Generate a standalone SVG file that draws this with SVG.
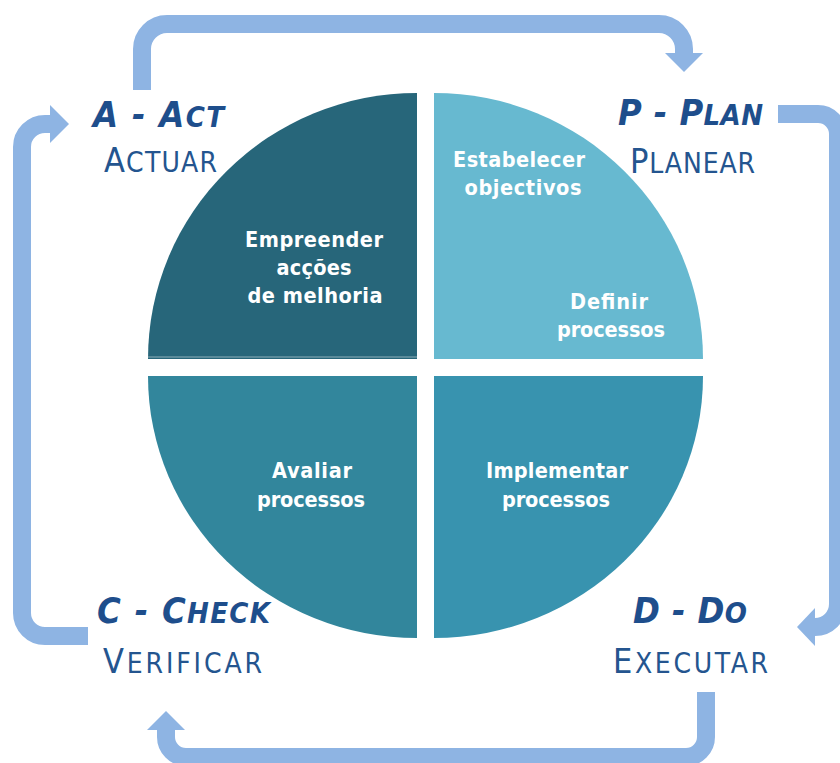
<svg xmlns="http://www.w3.org/2000/svg" width="840" height="763" viewBox="0 0 840 763">
<style>
.q{font-family:"DejaVu Sans Condensed","DejaVu Sans",sans-serif;font-stretch:condensed;font-weight:bold;font-size:21.5px;fill:#ffffff;text-anchor:middle}
.t1{font-family:"DejaVu Sans Condensed","DejaVu Sans",sans-serif;font-stretch:condensed;font-weight:bold;font-style:italic;fill:#1E4E8C}
.t2{font-family:"DejaVu Sans Condensed","DejaVu Sans",sans-serif;font-stretch:condensed;fill:#24558F}
.big{font-size:36px}
.sm{font-size:29px}
.big2{font-size:34px}
.sm2{font-size:28px}
.arr{fill:none;stroke:#8EB4E3;stroke-width:18}
.head{fill:#8EB4E3}
</style>
<rect width="840" height="763" fill="#ffffff"/>
<g id="connectors">
<path class="arr" d="M142,90 V49 A25,25 0 0 1 167,24 H659 A25,25 0 0 1 684,49 V54"/>
<polygon class="head" points="665,53 703,53 684,72"/>
<path class="arr" d="M778,114 H818 A20,20 0 0 1 838,134 V604 A23,23 0 0 1 815,627 H814"/>
<polygon class="head" points="815,608 815,646 797,627"/>
<path class="arr" d="M706,692 V737 A20,20 0 0 1 686,757 H186 A20,20 0 0 1 166,737 V729"/>
<polygon class="head" points="147,730 185,730 166,711"/>
<path class="arr" d="M88,636 H45 A23,23 0 0 1 22,613 V147 A23,23 0 0 1 45,124 H51"/>
<polygon class="head" points="50,105 50,143 69,124"/>
</g>
<g id="act-quadrant">
<path d="M417,359 H148 A269,266 0 0 1 417,93 Z" fill="#27667A"/>
<line x1="148" y1="357" x2="417" y2="357" stroke="#8FB0BA" stroke-width="1"/>
<text class="q" x="314" y="247" textLength="138" lengthAdjust="spacing">Empreender</text>
<text class="q" x="314" y="275" textLength="75" lengthAdjust="spacing">acções</text>
<text class="q" x="315" y="303" textLength="135" lengthAdjust="spacing">de melhoria</text>
</g>
<g id="plan-quadrant">
<path d="M434,359 V93 A269,266 0 0 1 703,359 Z" fill="#67B9D0"/>
<text class="q" x="519" y="167" textLength="132" lengthAdjust="spacing">Estabelecer</text>
<text class="q" x="523" y="195" textLength="117" lengthAdjust="spacing">objectivos</text>
<text class="q" x="609" y="309" textLength="78" lengthAdjust="spacing">Definir</text>
<text class="q" x="611" y="337" textLength="108" lengthAdjust="spacing">processos</text>
</g>
<g id="check-quadrant">
<path d="M417,376 H148 A269,262 0 0 0 417,638 Z" fill="#32869C"/>
<text class="q" x="312" y="478" textLength="80" lengthAdjust="spacing">Avaliar</text>
<text class="q" x="311" y="507" textLength="108" lengthAdjust="spacing">processos</text>
</g>
<g id="do-quadrant">
<path d="M434,376 H703 A269,262 0 0 1 434,638 Z" fill="#3893AF"/>
<text class="q" x="557" y="478" textLength="142" lengthAdjust="spacing">Implementar</text>
<text class="q" x="556" y="507" textLength="108" lengthAdjust="spacing">processos</text>
</g>
<g id="label-act">
<text class="t1" x="93" y="127" textLength="131" lengthAdjust="spacing"><tspan class="big">A - A</tspan><tspan class="sm">CT</tspan></text>
<text class="t2" x="104" y="172" textLength="113" lengthAdjust="spacing"><tspan class="big2">A</tspan><tspan class="sm2">CTUAR</tspan></text>
</g>
<g id="label-plan">
<text class="t1" x="618" y="125" textLength="145" lengthAdjust="spacing"><tspan class="big">P - P</tspan><tspan class="sm">LAN</tspan></text>
<text class="t2" x="630" y="173" textLength="125" lengthAdjust="spacing"><tspan class="big2">P</tspan><tspan class="sm2">LANEAR</tspan></text>
</g>
<g id="label-check">
<text class="t1" x="97" y="623" textLength="173" lengthAdjust="spacing"><tspan class="big">C - C</tspan><tspan class="sm">HECK</tspan></text>
<text class="t2" x="103" y="673" textLength="159" lengthAdjust="spacing"><tspan class="big2">V</tspan><tspan class="sm2">ERIFICAR</tspan></text>
</g>
<g id="label-do">
<text class="t1" x="633" y="623" textLength="114" lengthAdjust="spacing"><tspan class="big">D - D</tspan><tspan class="sm">O</tspan></text>
<text class="t2" x="613" y="673" textLength="155" lengthAdjust="spacing"><tspan class="big2">E</tspan><tspan class="sm2">XECUTAR</tspan></text>
</g>
</svg>
